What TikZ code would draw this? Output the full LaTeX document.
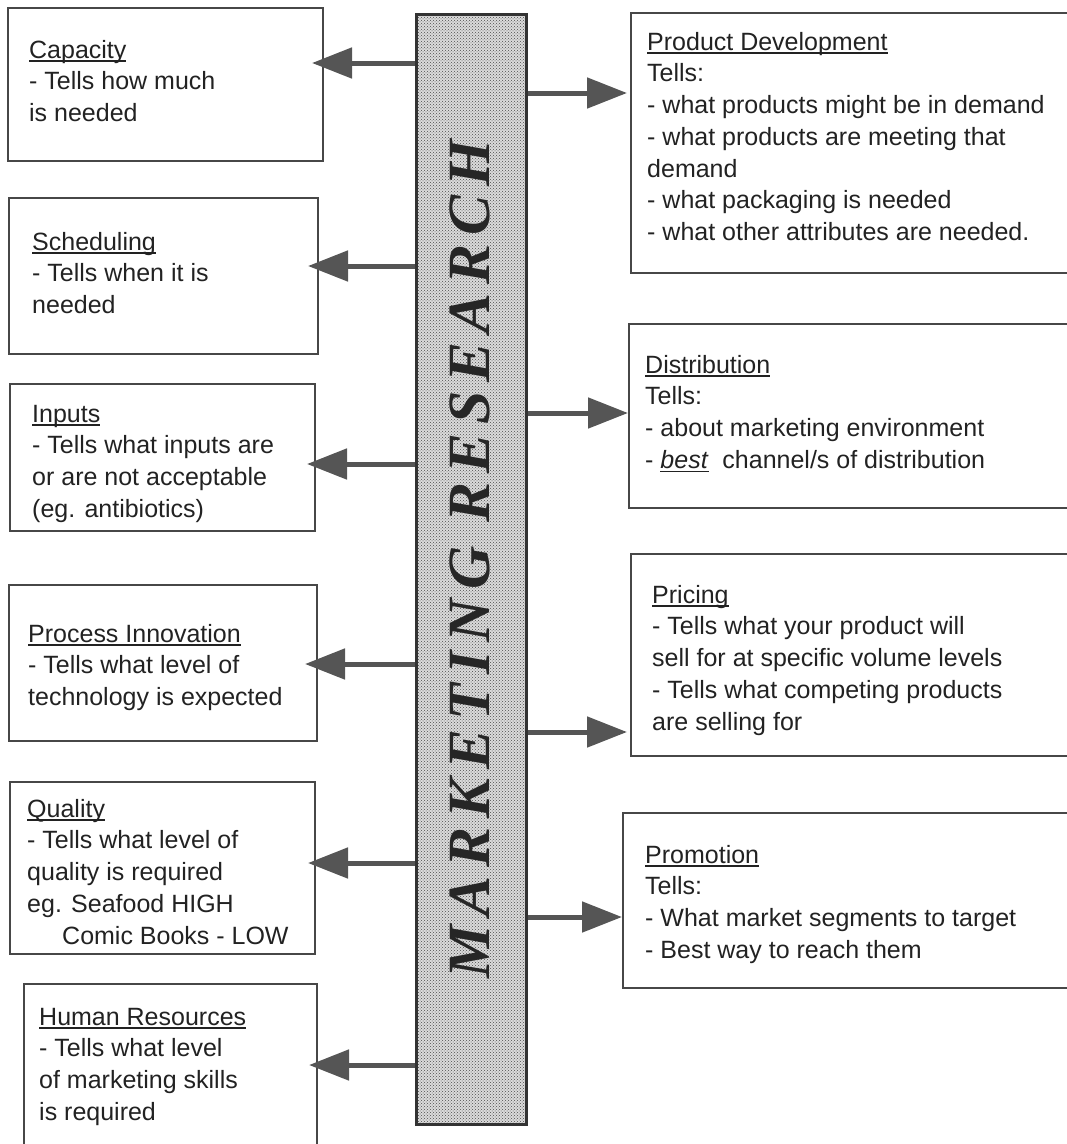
\documentclass[tikz,border=0pt]{standalone}
\usepackage{fontspec}
\setmainfont{Liberation Sans}
\newfontfamily\barfont[LetterSpace=15]{Liberation Serif}
\usetikzlibrary{arrows.meta,patterns}

\definecolor{ink}{HTML}{222222}
\definecolor{edge}{HTML}{474747}
\definecolor{arrowgray}{HTML}{555555}

% underline that runs through the descenders
\newcommand\headul[1]{\setbox0\hbox{#1}\rlap{\rule[-3.5pt]{\wd0}{1.3pt}}\box0}
\newcommand\firstline{\rule{0pt}{20pt}}

\begin{document}
\begin{tikzpicture}[x=1pt,y=-1pt,
  infobox/.style={draw=edge, line width=2.4pt, inner sep=0, anchor=north west},
  info/.style={anchor=north west, inner sep=0, align=left, text=ink,
    font=\fontsize{25}{31.7}\selectfont},
  feed/.style={draw=arrowgray, line width=5pt,
    -{Triangle[length=40pt,width=30pt]}, arrowgray}]
\useasboundingbox (0,0) rectangle (1067,1144);
\clip (0,0) rectangle (1067,1144);

% central bar
\node[draw=black!80, line width=3pt, preaction={fill=black!14},
  pattern=crosshatch dots, pattern color=black!70,
  minimum width=110pt, minimum height=1110pt,
  inner sep=0, anchor=north west] (bar) at (415,13) {};
\node[rotate=90, inner sep=0, text=black!85,
  font=\barfont\bfseries\itshape\fontsize{60}{60}\selectfont]
  (title) at (470,559) {MARKETING RESEARCH};

% left-hand boxes
\node[infobox, minimum width=315pt, minimum height=153pt] (cap) at (7,7) {};
\node[infobox, minimum width=309pt, minimum height=156pt] (sch) at (8,197) {};
\node[infobox, minimum width=305pt, minimum height=147pt] (inp) at (9,383) {};
\node[infobox, minimum width=308pt, minimum height=156pt] (pro) at (8,584) {};
\node[infobox, minimum width=305pt, minimum height=172pt] (qua) at (9,781) {};
\node[infobox, minimum width=293pt, minimum height=190pt] (hr) at (23,983) {};

% right-hand boxes
\node[infobox, minimum width=460pt, minimum height=260pt] (pd) at (630,12) {};
\node[infobox, minimum width=460pt, minimum height=184pt] (dis) at (628,323) {};
\node[infobox, minimum width=460pt, minimum height=202pt] (pri) at (630,553) {};
\node[infobox, minimum width=460pt, minimum height=175pt] (prm) at (622,812) {};

% texts
\node[info] (capt) at (29,38) {\firstline\headul{Capacity}\\- Tells how much\\is needed};
\node[info] (scht) at (32,230) {\firstline\headul{Scheduling}\\- Tells when it is\\needed};
\node[info] (inpt) at (32,402) {\firstline\headul{Inputs}\\- Tells what inputs are\\or are not acceptable\\(eg. antibiotics)};
\node[info] (prot) at (28,622) {\firstline\headul{Process Innovation}\\- Tells what level of\\technology is expected};
\node[info] (quat) at (27,797) {\firstline\headul{Quality}\\- Tells what level of\\quality is required\\eg. Seafood HIGH\\\hspace*{35pt}Comic Books - LOW};
\node[info] (hrt) at (39,1005) {\firstline\headul{Human Resources}\\- Tells what level\\of marketing skills\\is required};

\node[info] (pdt) at (647,30) {\firstline\headul{Product Development}\\Tells:\\- what products might be in demand\\- what products are meeting that\\demand\\- what packaging is needed\\- what other attributes are needed.};
\node[info] (dist) at (645,353) {\firstline\headul{Distribution}\\Tells:\\- about marketing environment\\- \headul{\textit{best}}\ \ channel/s of distribution};
\node[info] (prit) at (652,583) {\firstline\headul{Pricing}\\- Tells what your product will\\sell for at specific volume levels\\- Tells what competing products\\are selling for};
\node[info] (prmt) at (645,843) {\firstline\headul{Promotion}\\Tells:\\- What market segments to target\\- Best way to reach them};

% arrow tips
\coordinate (capin) at (312,63);
\coordinate (schin) at (308,266);
\coordinate (inpin) at (307,464);
\coordinate (proin) at (305,664);
\coordinate (quain) at (308,863);
\coordinate (hrin)  at (309,1065);
\coordinate (pdin)  at (627,93);
\coordinate (disin) at (628,413);
\coordinate (priin) at (627,732);
\coordinate (prmin) at (622,917);

% connectors
\draw[feed] (bar.west |- capin) -- (capin);
\draw[feed] (bar.west |- schin) -- (schin);
\draw[feed] (bar.west |- inpin) -- (inpin);
\draw[feed] (bar.west |- proin) -- (proin);
\draw[feed] (bar.west |- quain) -- (quain);
\draw[feed] (bar.west |- hrin) -- (hrin);
\draw[feed] (bar.east |- pdin) -- (pdin);
\draw[feed] (bar.east |- disin) -- (disin);
\draw[feed] (bar.east |- priin) -- (priin);
\draw[feed] (bar.east |- prmin) -- (prmin);
\end{tikzpicture}
\end{document}
